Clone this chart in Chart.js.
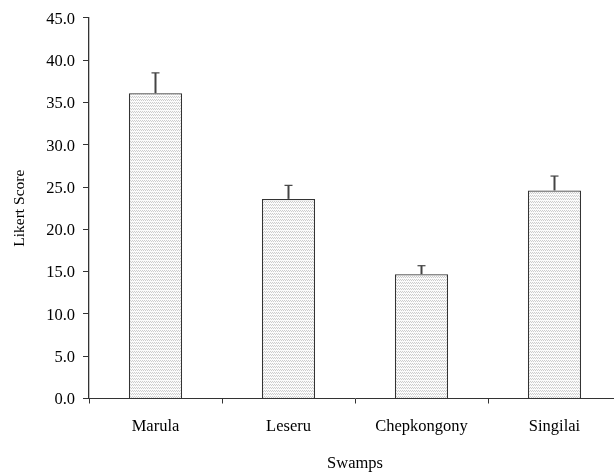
<!DOCTYPE html>
<html>
<head>
<meta charset="utf-8">
<script src="https://cdn.jsdelivr.net/npm/chart.js@4/dist/chart.umd.min.js"></script>
<style>
  html, body { margin: 0; padding: 0; background: #fff; overflow: hidden; }
  /* the plot runs past the right edge in the original, so clip it */
  #wrap { width: 614px; height: 475px; overflow: hidden; position: relative; }
  #chart { position: absolute; left: 0; top: 0; }
</style>
</head>
<body>
<div id="wrap"><canvas id="chart" width="621" height="475"></canvas></div>
<script>
// data
const swamps = ['Marula', 'Leseru', 'Chepkongony', 'Singilai'];
const meanScore = [36.1, 23.6, 14.7, 24.6];
const errScore = [2.4, 1.6, 1.0, 1.7];
const yTicks = [0, 5, 10, 15, 20, 25, 30, 35, 40, 45];

// sparse light dots like the original fill
function dotPattern() {
    const c = document.createElement('canvas');
    c.width = 2; c.height = 3;
    const g = c.getContext('2d');
    g.fillStyle = '#fbfbfb'; g.fillRect(0, 0, 2, 3);
    g.fillStyle = '#cdcdcd'; g.fillRect(0, 0, 1, 1); g.fillRect(1, 1, 1, 1);
    return g.createPattern(c, 'repeat');
}

// up-only error bars
const errorBars = {
    id: 'errorBars',
    afterDatasetsDraw(chart) {
        const ctx = chart.ctx;
        const y = chart.scales.y;
        const meta = chart.getDatasetMeta(0);
        ctx.save();
        ctx.strokeStyle = '#444';
        meta.data.forEach((bar, i) => {
            const top = y.getPixelForValue(meanScore[i]);
            const end = y.getPixelForValue(meanScore[i] + errScore[i]);
            ctx.lineWidth = 2;
            ctx.beginPath();
            ctx.moveTo(bar.x, top);
            ctx.lineTo(bar.x, end);
            ctx.stroke();
            ctx.lineWidth = 1.2;
            ctx.beginPath();
            ctx.moveTo(bar.x - 4, end);
            ctx.lineTo(bar.x + 4, end);
            ctx.stroke();
        });
        ctx.restore();
    }
};

const font = { family: '"Liberation Serif", "Times New Roman", serif', size: 16.5 };
const titleFont = { family: '"Liberation Serif", "Times New Roman", serif', size: 15.5 };

new Chart(document.getElementById('chart').getContext('2d'), {
    type: 'bar',
    data: {
        labels: swamps,
        datasets: [{
            data: meanScore,
            backgroundColor: dotPattern(),
            borderColor: '#333',
            borderWidth: 1.3,
            borderSkipped: 'bottom',
            barPercentage: 0.4,
            categoryPercentage: 1.0
        }]
    },
    options: {
        responsive: false,
        animation: false,
        layout: { padding: { top: 13.7, right: 0, left: 0, bottom: 0 } },
        plugins: { legend: { display: false }, tooltip: { enabled: false } },
        scales: {
            x: {
                grid: { drawOnChartArea: false, drawTicks: true, tickLength: 5, color: '#333', offset: true },
                border: { display: true, color: '#333', width: 1 },
                ticks: { color: '#000', font: font, padding: 13, maxRotation: 0 },
                title: { display: true, text: 'Swamps', color: '#000', font: font, padding: { top: 0, bottom: 1 } },
                afterFit: s => { s.height = 475 - 398.5; }
            },
            y: {
                min: 0,
                max: 45,
                afterBuildTicks: s => { s.ticks = yTicks.map(v => ({ value: v })); },
                grid: { drawOnChartArea: false, drawTicks: true, tickLength: 6, color: '#333' },
                border: { display: true, color: '#333', width: 1.3 },
                ticks: { color: '#000', font: font, padding: 8, labelOffset: 1.5, callback: v => Number(v).toFixed(1) },
                title: { display: true, text: 'Likert Score', color: '#000', font: titleFont, padding: { top: 10.5, bottom: 0 } },
                afterFit: s => { s.width = 89; }
            }
        }
    },
    plugins: [errorBars]
});
</script>
</body>
</html>
